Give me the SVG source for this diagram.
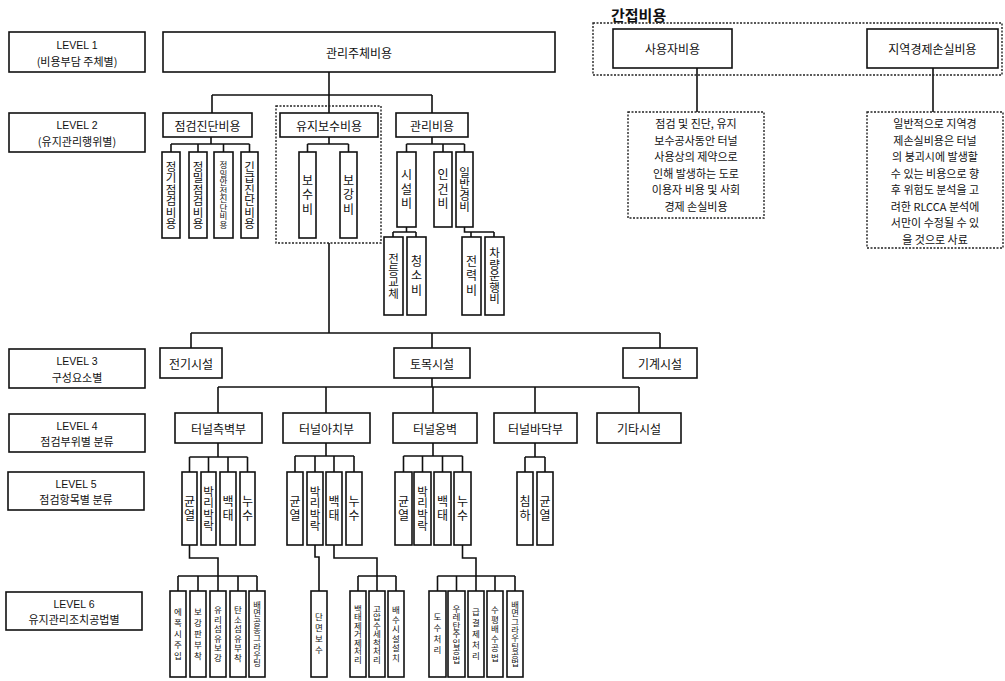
<svg xmlns="http://www.w3.org/2000/svg" width="1005" height="681" viewBox="0 0 1005 681">
<style>
.bx{fill:#fff;stroke:#111;stroke-width:1.6}
.dt{fill:none;stroke:#222;stroke-width:1.4;stroke-dasharray:2 1.5}
.ln{fill:none;stroke:#111;stroke-width:1.6}
.t{font-family:"Noto Sans CJK KR","Noto Sans",sans-serif;font-size:12px;fill:#111;text-anchor:middle;dominant-baseline:central}
.s{font-size:11px}
.lv{font-family:"Liberation Sans","Noto Sans CJK KR",sans-serif;font-size:10.5px}
.v{writing-mode:vertical-rl;font-size:11.5px}
.w{writing-mode:vertical-rl;font-size:12px;letter-spacing:2.5px}
.v3{writing-mode:vertical-rl;font-size:8.5px}
.a{writing-mode:vertical-rl;font-size:8.3px}
.b{writing-mode:vertical-rl;font-size:8.5px;letter-spacing:1px}
.c{writing-mode:vertical-rl;font-size:8.5px;letter-spacing:2.5px}
.h{font-size:15px;font-weight:bold;text-anchor:start}
</style>
<rect width="1005" height="681" fill="#fff"/>
<g id="connectors">
<path class="ln" d="M329 72V95M212 95H432M212 95V113M329 95V113M432 95V113"/>
<path class="ln" d="M211 137V144M171 144H249.5M171 144V152M198 144V152M223.5 144V152M249.5 144V152"/>
<path class="ln" d="M329 137V144M307.5 144H348.5M307.5 144V152M348.5 144V152"/>
<path class="ln" d="M432 137V144M406.5 144H464.5M406.5 144V152M443 144V152M464.5 144V152"/>
<path class="ln" d="M406.5 227V232M393 232H416M393 232V237M416 232V237"/>
<path class="ln" d="M464.5 227V232H494M471 232V237M494 232V237"/>
<path class="ln" d="M329 243V333M191 333H660M191 333V348M432 333V348M660 333V348"/>
<path class="ln" d="M432 378V387M218 387H639M218 387V413M326 387V413M433 387V413M535 387V413M639 387V413"/>
<path class="ln" d="M218 443V457M189.5 457H247.5M189.5 457V472M208.5 457V472M228 457V472M247.5 457V472"/>
<path class="ln" d="M326 443V456M295 456H354M295 456V472M315 456V472M334 456V472M354 456V472"/>
<path class="ln" d="M433 443V456M403.5 456H462.5M403.5 456V472M422.5 456V472M442.5 456V472M462.5 456V472"/>
<path class="ln" d="M535 443V457M525 457H545M525 457V472M545 457V472"/>
<path class="ln" d="M189.5 545V558H218V576M178 576H257M178 576V591M198 576V591M218 576V591M238 576V591M257 576V591"/>
<path class="ln" d="M315 545V557H319V591"/>
<path class="ln" d="M334 545V558H377V576M358 576H396M358 576V591M377 576V591M396 576V591"/>
<path class="ln" d="M462.5 545V558H476V576M437.5 576H515M437.5 576V591M456.5 576V591M476 576V591M495 576V591M515 576V591"/>
<path class="ln" d="M697 68V112M933 68V112"/>
</g>
<g id="levels">
<g id="lv1"><rect class="bx" x="9" y="32" width="136" height="40"/><text class="t lv" x="77" y="45">LEVEL 1</text><text class="t s" x="77" y="61">(비용부담 주체별)</text></g>
<g id="lv2"><rect class="bx" x="9" y="113" width="136" height="39"/><text class="t lv" x="77" y="125">LEVEL 2</text><text class="t s" x="77" y="141">(유지관리행위별)</text></g>
<g id="lv3"><rect class="bx" x="9" y="349" width="136" height="39"/><text class="t lv" x="77" y="361">LEVEL 3</text><text class="t s" x="77" y="377">구성요소별</text></g>
<g id="lv4"><rect class="bx" x="9" y="414" width="136" height="38"/><text class="t lv" x="77" y="426">LEVEL 4</text><text class="t s" x="77" y="441">점검부위별 분류</text></g>
<g id="lv5"><rect class="bx" x="8" y="472" width="136" height="38"/><text class="t lv" x="76" y="484">LEVEL 5</text><text class="t s" x="76" y="499">점검항목별 분류</text></g>
<g id="lv6"><rect class="bx" x="6" y="592" width="136" height="38"/><text class="t lv" x="74" y="604">LEVEL 6</text><text class="t s" x="74" y="619">유지관리조치공법별</text></g>
</g>
<g id="n-top"><rect class="bx" x="163" y="32" width="392" height="40"/><text class="t" x="359" y="52">관리주체비용</text></g>
<g id="indirect">
<text class="t h" x="611" y="14">간접비용</text>
<rect class="dt" x="593" y="23" width="409" height="52"/>
</g>
<g id="n-user"><rect class="bx" x="613" y="29" width="119" height="39"/><text class="t" x="672.5" y="48.5">사용자비용</text></g>
<g id="n-econ"><rect class="bx" x="867" y="29" width="131" height="39"/><text class="t" x="932.5" y="48.5">지역경제손실비용</text></g>
<g id="note1"><rect class="dt" x="628" y="112" width="136" height="106"/>
<text class="t s" x="696"><tspan x="696" y="123">점검 및 진단, 유지</tspan><tspan x="696" y="139.5">보수공사동안 터널</tspan><tspan x="696" y="156">사용상의 제약으로</tspan><tspan x="696" y="172.5">인해 발생하는 도로</tspan><tspan x="696" y="189">이용자 비용 및 사회</tspan><tspan x="696" y="205.5">경제 손실비용</tspan></text></g>
<g id="note2"><rect class="dt" x="867" y="112" width="136" height="136"/>
<text class="t s" x="935"><tspan x="935" y="123">일반적으로 지역경</tspan><tspan x="935" y="139.5">제손실비용은 터널</tspan><tspan x="935" y="156">의 붕괴시에 발생할</tspan><tspan x="935" y="172.5">수 있는 비용으로 향</tspan><tspan x="935" y="189">후 위험도 분석을 고</tspan><tspan x="935" y="205.5">려한 RLCCA 분석에</tspan><tspan x="935" y="222">서만이 수정될 수 있</tspan><tspan x="935" y="238.5">을 것으로 사료</tspan></text></g>
<g id="n-inspect"><rect class="bx" x="163" y="113" width="89" height="24"/><text class="t" x="207.5" y="125">점검진단비용</text></g>
<g id="maint-region"><rect class="dt" x="276" y="106" width="105" height="137"/></g>
<g id="n-maint"><rect class="bx" x="280" y="113" width="98" height="24"/><text class="t" x="329" y="125">유지보수비용</text></g>
<g id="n-manage"><rect class="bx" x="396" y="113" width="72" height="24"/><text class="t" x="432" y="125">관리비용</text></g>
<g id="n-l2-1"><rect class="bx" x="162" y="152" width="18" height="86"/><text class="t v" x="171" y="195">정기점검비용</text></g>
<g id="n-l2-2"><rect class="bx" x="189" y="152" width="18" height="86"/><text class="t v" x="198" y="195">정밀점검비용</text></g>
<g id="n-l2-3"><rect class="bx" x="214" y="152" width="19" height="86"/><text class="t v3" x="223.5" y="195">정밀안전진단비용</text></g>
<g id="n-l2-4"><rect class="bx" x="241" y="152" width="17" height="86"/><text class="t v" x="249.5" y="195">긴급진단비용</text></g>
<g id="n-l2-5"><rect class="bx" x="299" y="152" width="17" height="86"/><text class="t w" x="307.5" y="196">보수비</text></g>
<g id="n-l2-6"><rect class="bx" x="340" y="152" width="17" height="86"/><text class="t w" x="348.5" y="196">보강비</text></g>
<g id="n-l2-7"><rect class="bx" x="397" y="152" width="19" height="75"/><text class="t w" x="406.5" y="190.5">시설비</text></g>
<g id="n-l2-8"><rect class="bx" x="434" y="152" width="18" height="75"/><text class="t w" x="443" y="190.5">인건비</text></g>
<g id="n-l2-9"><rect class="bx" x="456" y="152" width="17" height="75"/><text class="t v" x="464.5" y="189.5">일반경비</text></g>
<g id="n-l2-10"><rect class="bx" x="384" y="237" width="19" height="78"/><text class="t v" x="393.5" y="276">전등교체</text></g>
<g id="n-l2-11"><rect class="bx" x="407" y="237" width="19" height="78"/><text class="t w" x="416.5" y="277">청소비</text></g>
<g id="n-l2-12"><rect class="bx" x="462" y="237" width="19" height="78"/><text class="t w" x="471.5" y="277">전력비</text></g>
<g id="n-l2-13"><rect class="bx" x="485" y="237" width="19" height="78"/><text class="t v" x="494.5" y="276">차량운행비</text></g>
<g id="n-elec"><rect class="bx" x="160" y="348" width="62" height="30"/><text class="t" x="191" y="363">전기시설</text></g>
<g id="n-civil"><rect class="bx" x="394" y="348" width="76" height="30"/><text class="t" x="432" y="363">토목시설</text></g>
<g id="n-mech"><rect class="bx" x="623" y="348" width="74" height="30"/><text class="t" x="660" y="363">기계시설</text></g>
<g id="n-side"><rect class="bx" x="175" y="413" width="87" height="30"/><text class="t" x="218.5" y="428">터널측벽부</text></g>
<g id="n-arch"><rect class="bx" x="283" y="413" width="87" height="30"/><text class="t" x="326.5" y="428">터널아치부</text></g>
<g id="n-wall"><rect class="bx" x="393" y="413" width="84" height="30"/><text class="t" x="435" y="428">터널옹벽</text></g>
<g id="n-floor"><rect class="bx" x="494" y="413" width="83" height="30"/><text class="t" x="535.5" y="428">터널바닥부</text></g>
<g id="n-etc"><rect class="bx" x="597" y="413" width="84" height="30"/><text class="t" x="639" y="428">기타시설</text></g>
<g id="l5-a1"><rect class="bx" x="182" y="472" width="15" height="73"/><text class="t w" x="189.5" y="509.5">균열</text></g>
<g id="l5-a2"><rect class="bx" x="201" y="472" width="15" height="73"/><text class="t v" x="208.5" y="508.5">박리박락</text></g>
<g id="l5-a3"><rect class="bx" x="220" y="472" width="16" height="73"/><text class="t w" x="228" y="509.5">백태</text></g>
<g id="l5-a4"><rect class="bx" x="240" y="472" width="15" height="73"/><text class="t w" x="247.5" y="509.5">누수</text></g>
<g id="l5-b1"><rect class="bx" x="287" y="472" width="16" height="73"/><text class="t w" x="295" y="509.5">균열</text></g>
<g id="l5-b2"><rect class="bx" x="307" y="472" width="16" height="73"/><text class="t v" x="315" y="508.5">박리박락</text></g>
<g id="l5-b3"><rect class="bx" x="326" y="472" width="16" height="73"/><text class="t w" x="334" y="509.5">백태</text></g>
<g id="l5-b4"><rect class="bx" x="346" y="472" width="16" height="73"/><text class="t w" x="354" y="509.5">누수</text></g>
<g id="l5-c1"><rect class="bx" x="395" y="472" width="17" height="73"/><text class="t w" x="403.5" y="509.5">균열</text></g>
<g id="l5-c2"><rect class="bx" x="414" y="472" width="17" height="73"/><text class="t v" x="422.5" y="508.5">박리박락</text></g>
<g id="l5-c3"><rect class="bx" x="434" y="472" width="17" height="73"/><text class="t w" x="442.5" y="509.5">백태</text></g>
<g id="l5-c4"><rect class="bx" x="454" y="472" width="17" height="73"/><text class="t w" x="462.5" y="509.5">누수</text></g>
<g id="l5-d1"><rect class="bx" x="517" y="472" width="16" height="73"/><text class="t w" x="525" y="509.5">침하</text></g>
<g id="l5-d2"><rect class="bx" x="537" y="472" width="16" height="73"/><text class="t w" x="545" y="509.5">균열</text></g>
<g id="l6-a1"><rect class="bx" x="170" y="591" width="16" height="86"/><text class="t c" x="178" y="635">에폭시주입</text></g>
<g id="l6-a2"><rect class="bx" x="190" y="591" width="16" height="86"/><text class="t c" x="198" y="635">보강판부착</text></g>
<g id="l6-a3"><rect class="bx" x="210" y="591" width="16" height="86"/><text class="t b" x="218" y="634.5">유리섬유보강</text></g>
<g id="l6-a4"><rect class="bx" x="230" y="591" width="16" height="86"/><text class="t b" x="238" y="634.5">탄소섬유부착</text></g>
<g id="l6-a5"><rect class="bx" x="249" y="591" width="16" height="86"/><text class="t a" x="257" y="634">배면공동그라우팅</text></g>
<g id="l6-b1"><rect class="bx" x="311" y="591" width="16" height="86"/><text class="t c" x="319" y="635">단면보수</text></g>
<g id="l6-c1"><rect class="bx" x="350" y="591" width="16" height="86"/><text class="t v3" x="358" y="634">백태제거제처리</text></g>
<g id="l6-c2"><rect class="bx" x="369" y="591" width="16" height="86"/><text class="t v3" x="377" y="634">고압수세척처리</text></g>
<g id="l6-c3"><rect class="bx" x="388" y="591" width="16" height="86"/><text class="t b" x="396" y="634.5">배수시설설치</text></g>
<g id="l6-d1"><rect class="bx" x="429" y="591" width="17" height="86"/><text class="t c" x="437.5" y="635">도수처리</text></g>
<g id="l6-d2"><rect class="bx" x="448" y="591" width="17" height="86"/><text class="t v3" x="456.5" y="634">우레탄주입공법</text></g>
<g id="l6-d3"><rect class="bx" x="468" y="591" width="16" height="86"/><text class="t c" x="476" y="635">급결제처리</text></g>
<g id="l6-d4"><rect class="bx" x="487" y="591" width="16" height="86"/><text class="t b" x="495" y="634.5">수평배수공법</text></g>
<g id="l6-d5"><rect class="bx" x="507" y="591" width="16" height="86"/><text class="t a" x="515" y="634">배면그라우팅공법</text></g>
</svg>
